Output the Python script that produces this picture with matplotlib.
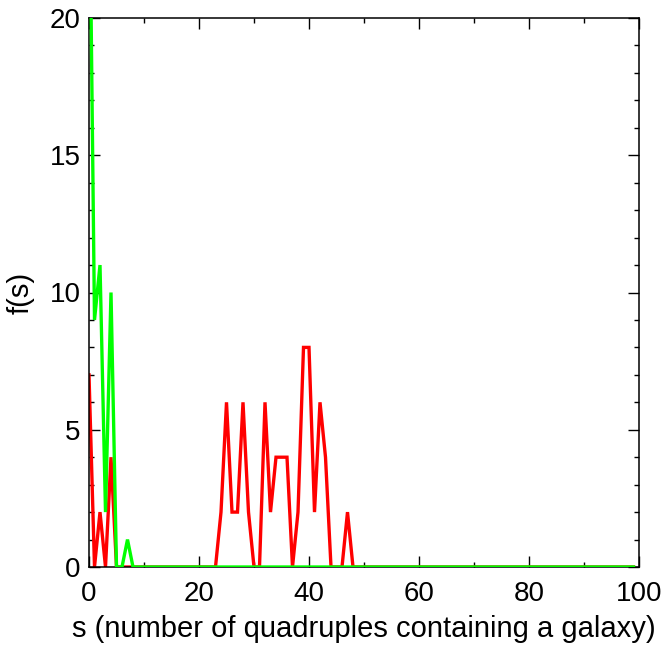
import matplotlib
matplotlib.use("Agg")
import matplotlib.pyplot as plt
import numpy as np
from matplotlib.ticker import MultipleLocator

s = np.arange(0, 100)

# green series: nonzero values at small s, zero elsewhere
green_head = [27, 9, 11, 2, 10, 0, 0, 1]
green = np.array(green_head + [0] * (100 - len(green_head)), dtype=float)

# red series
red_head = [7, 0, 2, 0, 4, 0, 0, 0, 0, 0,
            0, 0, 0, 0, 0, 0, 0, 0, 0, 0,
            0, 0, 0, 0, 2, 6, 2, 2, 6, 2,
            0, 0, 6, 2, 4, 4, 4, 0, 2, 8,
            8, 2, 6, 4, 0, 0, 0, 2, 0]
red = np.array(red_head + [0] * (100 - len(red_head)), dtype=float)

xticks = [0, 20, 40, 60, 80, 100]
yticks = [0, 5, 10, 15, 20]

plt.rcParams['font.family'] = ['Liberation Sans', 'DejaVu Sans']

fig = plt.figure(figsize=(6.64, 6.48), dpi=100)
ax = fig.add_axes([89/664, 1 - 567/648, (639-89)/664, (567-18)/648])

ax.plot(s, red, color='#ff0000', lw=2.4, solid_joinstyle='miter', zorder=2)
ax.plot(s, green, color='#00ff00', lw=2.4, solid_joinstyle='miter', zorder=3)

ax.set_xlim(0, 100)
ax.set_ylim(0, 20)
ax.set_xticks(xticks)
ax.set_yticks(yticks)
ax.xaxis.set_minor_locator(MultipleLocator(10))
ax.yaxis.set_minor_locator(MultipleLocator(1))
ax.tick_params(which='both', direction='in', top=True, right=True,
               labelsize=20, width=1, color='black')
ax.tick_params(which='major', length=8)
ax.tick_params(which='minor', length=3.5)
ax.tick_params(axis='x', which='both', pad=10)
ax.tick_params(axis='y', which='both', pad=6)
for sp in ax.spines.values():
    sp.set_linewidth(1.1)

ax.set_xlabel('s (number of quadruples containing a galaxy)', fontsize=21, labelpad=6)
ax.set_ylabel('f(s)', fontsize=21, labelpad=11)

fig.savefig('out.png', dpi=100)
